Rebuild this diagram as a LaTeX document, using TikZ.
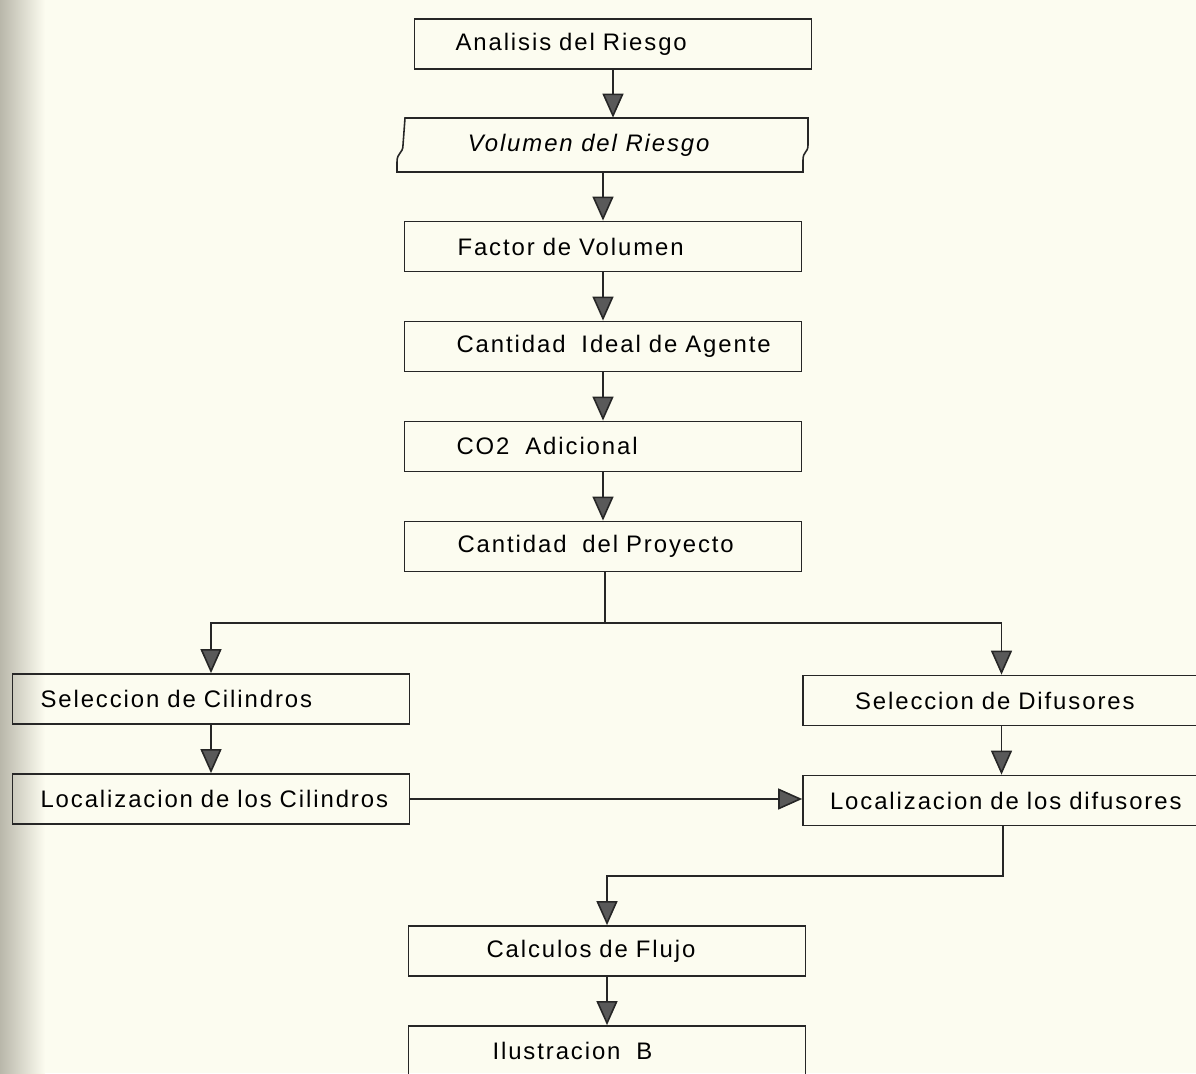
\documentclass[tikz,border=0pt]{standalone}
\usepackage{fontspec}
\setmainfont{Liberation Sans}[LetterSpace=8]
\usepackage{tikz}
\usetikzlibrary{positioning,arrows.meta}

\definecolor{paper}{HTML}{FCFCF0}
\definecolor{shade}{HTML}{B9B7AA}

\begin{document}
\begin{tikzpicture}[x=0.02cm,y=-0.02cm,node distance=0.965cm and 2cm,font=\fontsize{13.6}{15}\selectfont]
    \tikzstyle{box}=[draw=black!85,line width=1pt,minimum height=1.0cm,text width=7.94cm,inner xsep=0pt,align=left]
    \tikzstyle{edge}=[draw=black!85,line width=0.9pt,-{Triangle[width=0.42cm,length=0.48cm,fill=black!65]}]
    \tikzstyle{line}=[draw=black!85,line width=0.9pt]

    % paper and the shadow of the binding
    \useasboundingbox (0,0) rectangle (1196,1073);
    \fill[paper] (0,0) rectangle (1196,1073);
    \shade[left color=shade,right color=paper] (0,0) rectangle (45,1073);

    \node[box] (anal) at (613,44) {\hspace*{0.82cm}Analisis del Riesgo};
    \node[minimum width=8.2cm,minimum height=1.08cm,inner sep=0pt] (vol) at (603,145) {};
    \node[anchor=west] at ([xshift=1.28cm]vol.west) {\itshape Volumen del Riesgo};
    \draw[line] (405,118) -- (808,118) -- (808,145) .. controls (808,153) and (803,151) .. (803,160)
        -- (803,172) -- (397,172) -- (397,162) .. controls (397,152) and (403,154) .. (403,145) -- cycle;
    \node[box] (fact) [below=of vol] {\hspace*{1.06cm}Factor de Volumen};
    \node[box] (cant) [below=of fact] {\hspace*{1.04cm}Cantidad\ \ Ideal de Agente};
    \node[box] (co2) [below=of cant] {\hspace*{1.04cm}CO2\ \ Adicional};
    \node[box] (proy) [below=of co2] {\hspace*{1.06cm}Cantidad\ \ del Proyecto};

    \node[box] (selc) at (211,699) {\hspace*{0.56cm}Seleccion de Cilindros};
    \node[box] (locc) [below=of selc] {\hspace*{0.56cm}Localizacion de los Cilindros};
    \node[box] (seld) at (1001.5,700.5) {\hspace*{1.04cm}Seleccion de Difusores};
    \node[box] (locd) [below=of seld] {\hspace*{0.54cm}Localizacion de los difusores};

    \node[box] (calc) at (607,951) {\hspace*{1.56cm}Calculos de Flujo};
    \node[box] (ilus) [below=of calc] {\hspace*{1.68cm}Ilustracion\ \ B};

    \coordinate (split) at (605,623);
    \coordinate (join) at (1003,876);

    \draw[edge] (anal) -- (anal |- vol.north);
    \draw[edge] (vol.south) -- (fact);
    \draw[edge] (fact) -- (cant);
    \draw[edge] (cant) -- (co2);
    \draw[edge] (co2) -- (proy);
    \draw[line] (proy.south -| split) -- (split);
    \draw[edge] (split) -| (selc);
    \draw[edge] (split) -| (seld);
    \draw[edge] (selc) -- (locc);
    \draw[edge] (seld) -- (locd);
    \draw[edge] (locc.east) -- (locc.east -| locd.west);
    \draw[edge] (locd.south -| join) -- (join) -| (calc);
    \draw[edge] (calc) -- (ilus);
\end{tikzpicture}
\end{document}
